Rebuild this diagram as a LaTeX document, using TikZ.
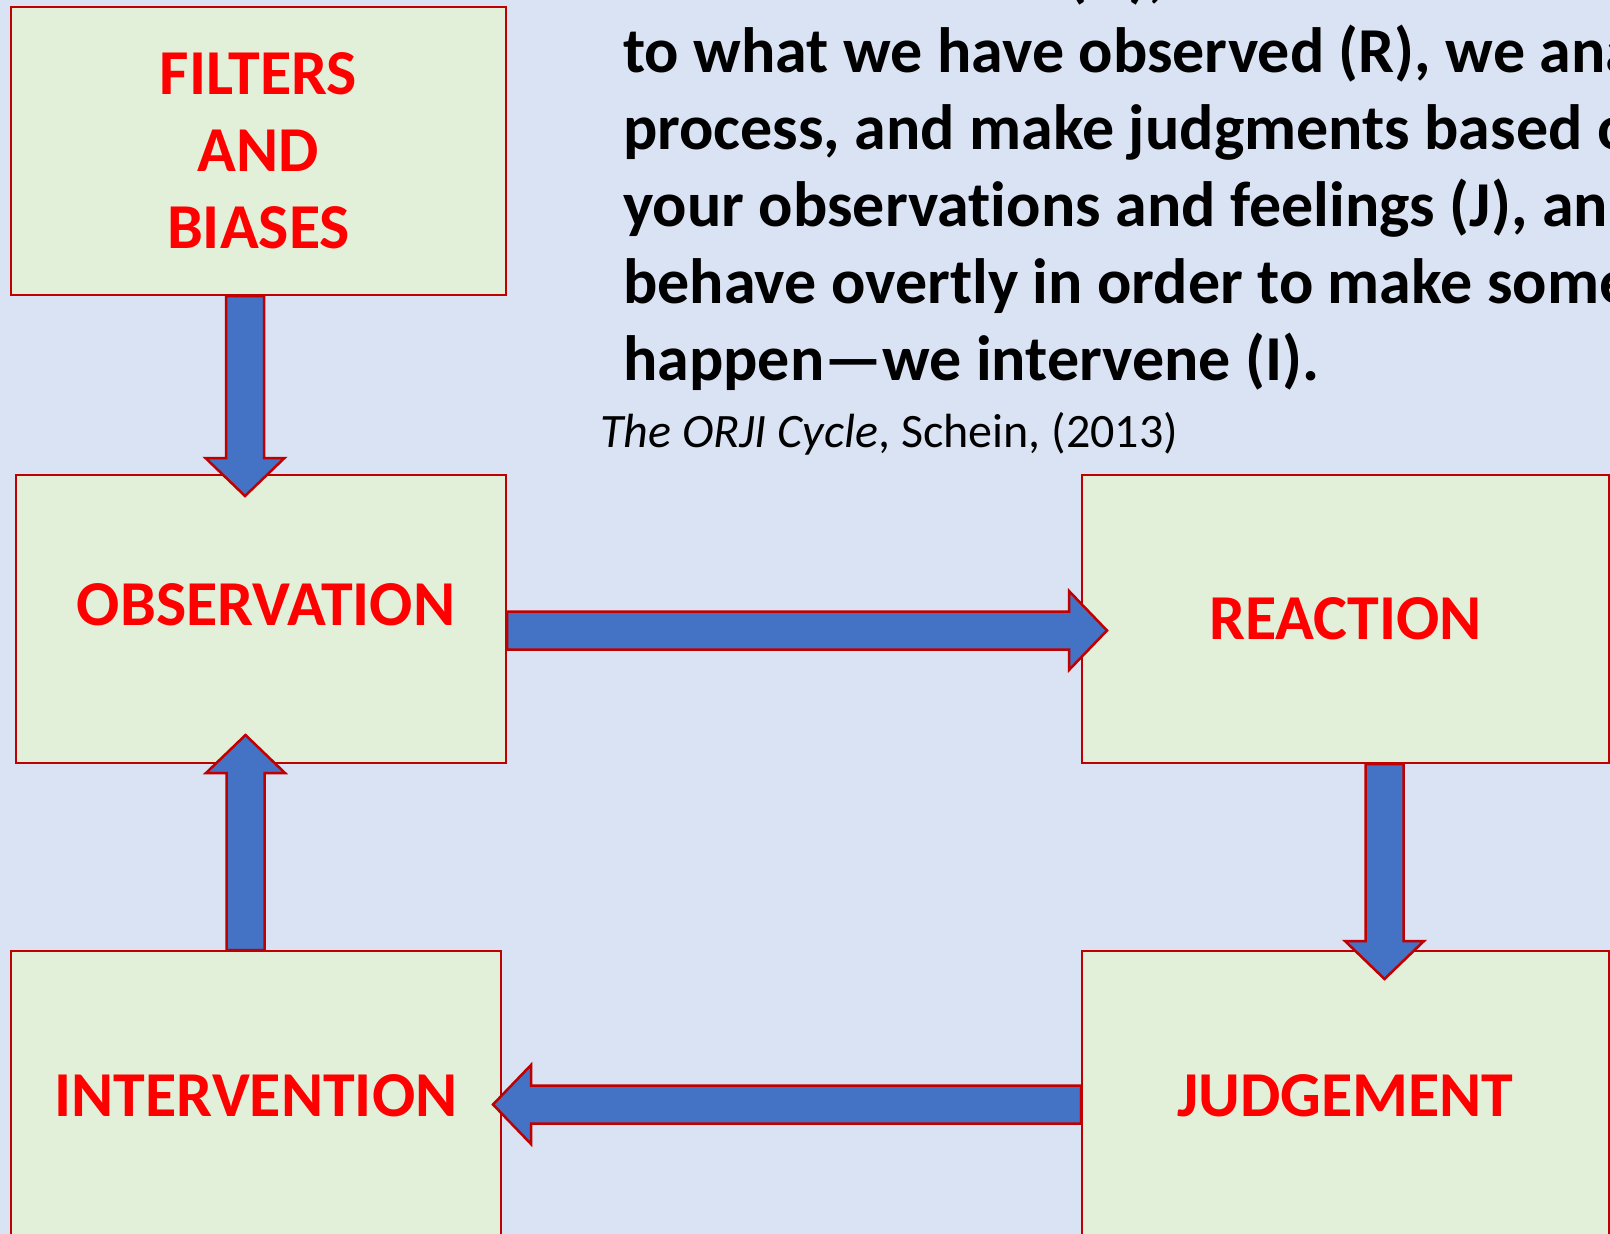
\documentclass[tikz,border=0pt]{standalone}
\usepackage{fontspec}
\setmainfont[Ligatures={NoCommon}]{Carlito}
\usepackage{xcolor}
\usepackage{tikz}
\usetikzlibrary{calc}
\usetikzlibrary{positioning}

\definecolor{slidebg}{HTML}{DAE3F3}
\definecolor{boxfill}{HTML}{E2F0D9}
\definecolor{boxline}{HTML}{C00000}
\definecolor{labelred}{HTML}{FF0000}
\definecolor{arrowblue}{HTML}{4472C4}

% fat block arrow from #1 to tip #2
\newcommand{\blockarrow}[2]{%
  \coordinate (hb) at ($(#2)!38pt!(#1)$);
  \draw[bigarrow] ($(#1)!19pt!90:(#2)$) -- ($(hb)!19pt!90:(#2)$) -- ($(hb)!39.5pt!90:(#2)$) -- (#2)
    -- ($(hb)!39.5pt!-90:(#2)$) -- ($(hb)!19pt!-90:(#2)$) -- ($(#1)!19pt!-90:(#2)$) -- cycle;
}

\begin{document}
\begin{tikzpicture}[x=1pt,y=-1pt,
  box/.style={draw=boxline, fill=boxfill, line width=2pt, rectangle, anchor=north west, inner sep=0pt,
    text=labelred, font=\fontsize{64}{77}\selectfont\bfseries, align=center},
  bigarrow/.style={draw=boxline, fill=arrowblue, line width=2.5pt, line join=miter},
  para/.style={anchor=base west, inner sep=0pt, font=\fontsize{64}{77}\selectfont\bfseries}]

\useasboundingbox (0,0) rectangle (1610,1234);
\clip (0,0) rectangle (1610,1234);
\fill[slidebg] (0,0) rectangle (1610,1234);

% the text block, cut off at the top and right
\node[para] (line0) at (574,-5) {When we observe (O), we react emotionally};
\foreach \ln [count=\i] in {{to what we have observed (R), we analyze,},{process, and make judgments based on},{your observations and feelings (J), and},{behave overtly in order to make something},{happen—we intervene (I).}}
  \node[para] (line\i) at (623,{-5+77*\i}) {\ln};
\node[anchor=base west, inner sep=0pt, font=\fontsize{48}{58}\selectfont] (cite) at (600,447) {\textit{The ORJI Cycle}, Schein, (2013)};

% boxes
\node[box, minimum width=495pt, minimum height=288pt] (filters) at (10,6) {FILTERS\\AND\\BIASES};
\node[box, minimum width=490pt, minimum height=288pt, text depth=28pt] (obs) at (15,474) {\hspace*{10pt}OBSERVATION};
\node[box, minimum width=527pt, minimum height=288pt] (rea) at (1081,474) {REACTION};
\node[box, minimum width=527pt, minimum height=290pt] (jud) at (1081,950) {JUDGEMENT};
\node[box, minimum width=490pt, minimum height=290pt] (int) at (10,950) {INTERVENTION};

% arrows
\coordinate (a1s) at ($(filters.south)+(-13.5,0)$);
\coordinate (a1t) at ($(a1s |- obs.north)+(0,22)$);
\coordinate (a2s) at ($(obs.east)+(0,11.5)$);
\coordinate (a2t) at ($(a2s -| rea.west)+(26,0)$);
\coordinate (a3s) at ($(rea.south)+(39,0)$);
\coordinate (a3t) at ($(a3s |- jud.north)+(0,29)$);
\coordinate (a4s) at ($(jud.west)+(0,8.5)$);
\coordinate (a4t) at ($(a4s -| int.east)+(-9,0)$);
\coordinate (a5s) at ($(int.north)+(-10.5,0)$);
\coordinate (a5t) at ($(a5s |- obs.south)+(0,-29)$);

\blockarrow{a1s}{a1t}
\blockarrow{a2s}{a2t}
\blockarrow{a3s}{a3t}
\blockarrow{a4s}{a4t}
\blockarrow{a5s}{a5t}

\end{tikzpicture}
\end{document}
